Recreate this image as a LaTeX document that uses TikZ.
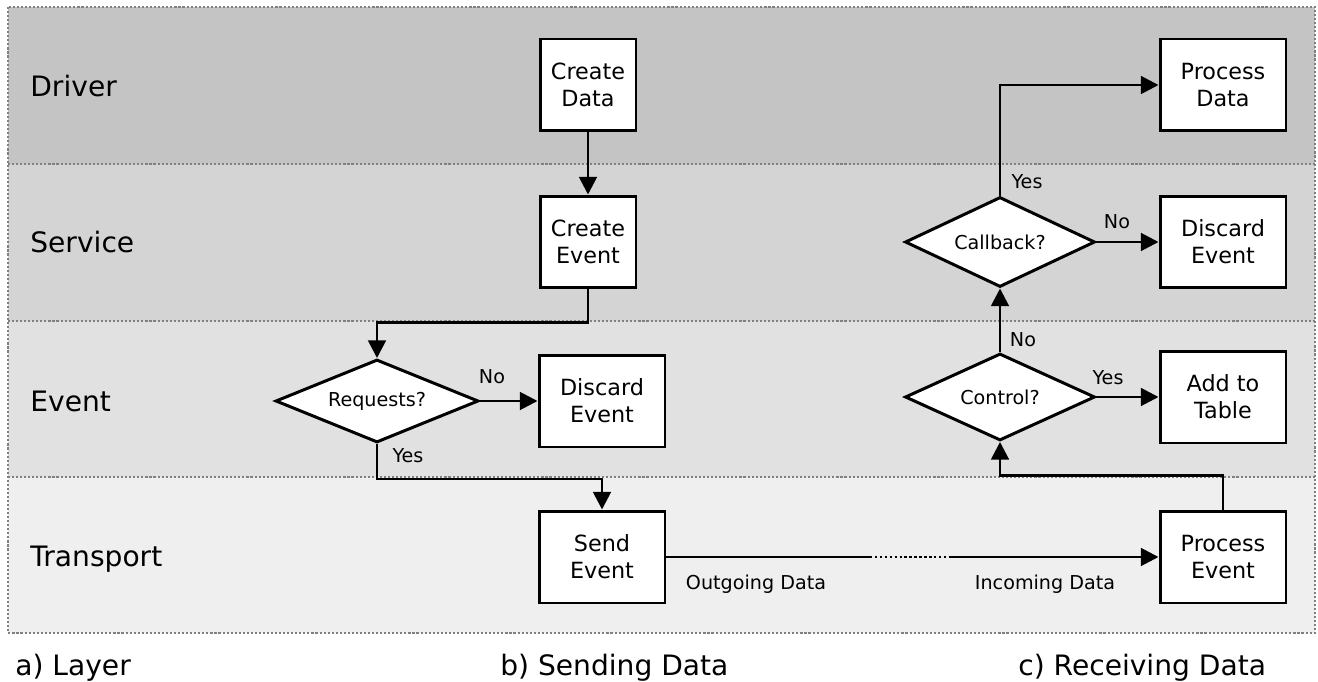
\documentclass[tikz,border=0pt]{standalone}
\usepackage{fontspec}
\setmainfont{DejaVu Sans}
\usetikzlibrary{shapes.geometric,arrows.meta}

% layer shading
\definecolor{driverbg}{HTML}{C4C4C4}
\definecolor{servicebg}{HTML}{D4D4D4}
\definecolor{eventbg}{HTML}{E1E1E1}
\definecolor{transportbg}{HTML}{EFEFEF}

\tikzset{
	block/.style={draw, fill=white, line width=1.7pt, inner sep=0pt,
		minimum width=1.92cm, minimum height=1.84cm, align=center,
		font=\fontsize{12.7}{15.4}\selectfont},
	wideblock/.style={block, minimum width=2.52cm},
	decision/.style={diamond, draw, fill=white, line width=1.7pt, inner sep=0pt,
		aspect=2.3, font=\fontsize{10.9}{13}\selectfont},
	flow/.style={line width=1.6pt, -{Triangle[length=10pt,width=10pt]}},
	lbl/.style={font=\fontsize{10.9}{13}\selectfont},
	layer/.style={font=\fontsize{16}{19}\selectfont, anchor=base west, inner sep=0pt},
	caption/.style={font=\fontsize{16}{19}\selectfont, anchor=base west, inner sep=0pt},
	sep/.style={draw=gray, line width=1.3pt, dash pattern=on 1.2pt off 1.1pt}
}

\begin{document}
\begin{tikzpicture}[x=0.02cm,y=-0.02cm]
	\useasboundingbox (0,0) rectangle (1318,682);
	
	%LAYERS
	\foreach \ya/\yb/\col in {7/164/driverbg,164/321/servicebg,321/477/eventbg,477/633/transportbg}
		\fill[\col] (8,\ya) rectangle (1315,\yb);
	\foreach \y in {164,321,477} \draw[sep] (8,\y)--(1315,\y);	%layer borders
	\draw[sep] (8,7) rectangle (1315,633);							%outer frame
	\foreach \y/\name in {97/Driver,253/Service,411/Event,566/Transport}
		\node[layer] (lay\name) at (30,\y) {\name};
	
	%SENDING
	\node[block] (cdata) at (588,85) {Create\\Data};
	\node[block] (cevent) at (588,242) {Create\\Event};
	\node[decision, minimum width=4.06cm, minimum height=1.66cm] (req) at (377,401) {Requests?};
	\node[wideblock] (discreq) at (602,401) {Discard\\Event};
	\node[wideblock] (send) at (602,557) {Send\\Event};
	
	\draw[flow] (cdata)--(cevent);
	\draw[flow] (cevent.south)--++(0,33) -| (req.north);
	\draw[flow] (req)--(discreq);
	\draw[flow] (req.south)--++(0,35) -| (send.north);
	\node[lbl] (reqno) at (492,377) {No};
	\node[lbl] (reqyes) at (408,456) {Yes};
	
	%LINK
	\coordinate (gapL) at (870,557);
	\coordinate (gapR) at (950,557);
	\draw[line width=1.6pt] (send)--(gapL);
	\draw[line width=1.6pt, dash pattern=on 1.4pt off 1.4pt] (gapL)--(gapR);
	\node[lbl] (outdata) at (756,584) {Outgoing Data};
	\node[lbl] (indata) at (1045,584) {Incoming Data};
	
	%RECEIVING
	\node[wideblock] (pdata) at (1223,85) {Process\\Data};
	\node[decision, minimum width=3.8cm, minimum height=1.8cm] (cb) at (1000,242) {Callback?};
	\node[wideblock] (disccb) at (1223,242) {Discard\\Event};
	\node[decision, minimum width=3.8cm, minimum height=1.74cm] (ctrl) at (1000,397) {Control?};
	\node[wideblock] (table) at (1223,397) {Add to\\Table};
	\node[wideblock] (pevent) at (1223,557) {Process\\Event};
	
	\draw[flow] (gapR)--(pevent);
	\draw[flow] (pevent.north)--++(0,-34) -| (ctrl.south);
	\draw[flow] (ctrl)--(cb);
	\draw[flow] (ctrl)--(table);
	\draw[flow] (cb)--(disccb);
	\draw[flow] (cb.north) |- (pdata.west);
	\node[lbl] (ctrlno) at (1023,340) {No};
	\node[lbl] (ctrlyes) at (1108,378) {Yes};
	\node[lbl] (cbno) at (1117,222) {No};
	\node[lbl] (cbyes) at (1027,182) {Yes};
	
	%CAPTIONS
	\node[caption] (capa) at (15,675) {a) Layer};
	\node[caption] (capb) at (500,675) {b) Sending Data};
	\node[caption] (capc) at (1018,675) {c) Receiving Data};
	
%	\draw[help lines,step=50] (0,0) grid (1318,682);
\end{tikzpicture}
\end{document}
